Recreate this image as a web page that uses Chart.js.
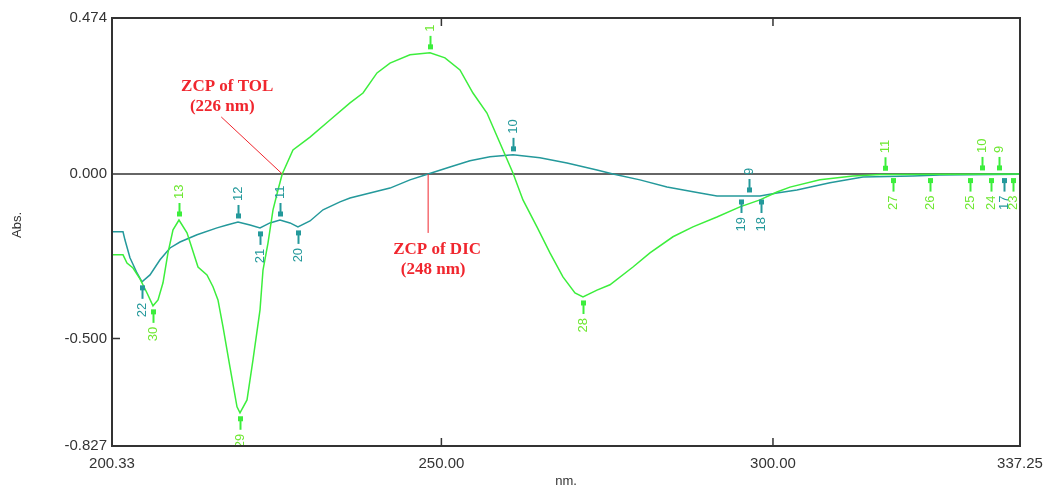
<!DOCTYPE html>
<html>
<head>
<meta charset="utf-8">
<title>Derivative spectra TOL / DIC</title>
<script src="https://cdn.jsdelivr.net/npm/chart.js@4.4.1/dist/chart.umd.min.js"></script>
<style>
  html, body { margin: 0; padding: 0; background: #fff; }
  #wrap { width: 1044px; height: 486px; }
</style>
</head>
<body>
<div id="wrap"><canvas id="c" width="1044" height="486"></canvas></div>
<script>
// axis limits and tick labels, as printed on the spectrum
const xTicks = [200.33, 250.00, 300.00, 337.25];
const yTicks = [-0.827, -0.500, 0.000, 0.474];

// TOL derivative curve (green), nm / Abs.
const tolX = [200.33, 201.99, 202.59, 203.50, 204.55, 205.61, 206.51, 207.27, 208.02, 208.77,
  209.53, 210.43, 211.64, 213.30, 214.65, 215.56, 216.31, 217.07, 218.12, 219.18,
  219.63, 220.69, 221.59, 222.65, 223.10, 223.85, 224.61, 225.36, 226.00, 227.62,
  230.19, 233.20, 236.22, 238.18, 240.29, 242.25, 245.26, 248.28, 250.54, 252.80,
  254.76, 256.87, 258.83, 260.79, 262.30, 264.41, 266.37, 268.33, 270.14, 271.35,
  273.46, 275.42, 278.89, 281.45, 284.92, 287.93, 291.55, 295.02, 298.04, 300.60,
  302.56, 307.08, 312.06, 316.13, 325.18, 337.25];
const tolY = [-0.246, -0.246, -0.271, -0.286, -0.319, -0.362, -0.401, -0.383, -0.331, -0.240,
  -0.170, -0.140, -0.179, -0.283, -0.307, -0.343, -0.383, -0.465, -0.587, -0.708,
  -0.726, -0.687, -0.565, -0.413, -0.292, -0.210, -0.109, -0.049, 0.000, 0.073,
  0.112, 0.164, 0.216, 0.246, 0.307, 0.337, 0.362, 0.368, 0.353, 0.316,
  0.246, 0.185, 0.094, 0.003, -0.079, -0.161, -0.240, -0.313, -0.362, -0.374,
  -0.353, -0.337, -0.283, -0.240, -0.191, -0.161, -0.131, -0.100, -0.079, -0.055,
  -0.040, -0.018, -0.006, -0.002, -0.001, 0.000];

// DIC derivative curve (teal)
const dicX = [200.33, 201.99, 202.29, 203.04, 204.10, 204.85, 206.06, 207.57, 209.08, 210.58,
  213.15, 216.16, 217.67, 219.33, 221.14, 222.65, 224.15, 225.66, 227.17, 228.37,
  230.19, 232.15, 234.71, 236.22, 239.23, 242.25, 245.26, 248.00, 251.29, 254.31,
  257.33, 260.79, 264.86, 268.94, 273.46, 275.87, 279.94, 284.02, 288.99, 291.55,
  295.78, 298.04, 300.60, 303.61, 308.59, 313.57, 321.11, 325.18, 337.25];
const dicY = [-0.176, -0.176, -0.201, -0.255, -0.301, -0.328, -0.307, -0.261, -0.225, -0.207,
  -0.185, -0.164, -0.155, -0.146, -0.155, -0.164, -0.149, -0.140, -0.149, -0.161,
  -0.143, -0.109, -0.085, -0.073, -0.058, -0.043, -0.018, 0.000, 0.021, 0.040,
  0.052, 0.058, 0.049, 0.033, 0.012, 0.000, -0.018, -0.040, -0.058, -0.067,
  -0.067, -0.067, -0.058, -0.049, -0.027, -0.009, -0.006, -0.003, -0.001];

// peak picks: label, nm, Abs., +1 = valley (label below), -1 = peak (label above)
const tolPickLabel = ['1', '13', '11', '10', '9', '30', '29', '28', '27', '26', '25', '24', '23'];
const tolPickX = [248.28, 210.43, 316.88, 331.50, 334.10, 206.51, 219.63, 271.35, 318.10, 323.67, 329.70, 332.90, 336.20];
const tolPickY = [0.368, -0.140, -0.001, 0.000, 0.000, -0.401, -0.726, -0.374, -0.002, -0.002, -0.002, -0.002, -0.002];
const tolPickDir = [-1, -1, -1, -1, -1, 1, 1, 1, 1, 1, 1, 1, 1];

const dicPickLabel = ['12', '11', '10', '9', '22', '21', '20', '19', '18', '17'];
const dicPickX = [219.33, 225.66, 260.79, 296.40, 204.85, 222.65, 228.37, 295.20, 298.20, 334.80];
const dicPickY = [-0.146, -0.140, 0.058, -0.067, -0.328, -0.164, -0.161, -0.067, -0.067, -0.002];
const dicPickDir = [-1, -1, -1, -1, 1, 1, 1, 1, 1, 1];

// zero crossing points
const zcpTol = 226;
const zcpDic = 248;

const GREEN = '#3cee3c';
const GREEN_TXT = '#6ee832';
const TEAL = '#24999b';
const RED = '#f0262e';
const AXIS = '#333333';

function toPts(xs, ys) { return xs.map((x, i) => ({ x: x, y: ys[i] })); }

const spectrumDecor = {
  id: 'spectrumDecor',
  beforeDatasetsDraw(chart) {
    const { ctx, chartArea: a, scales: { y } } = chart;
    ctx.save();
    // zero line
    const y0 = y.getPixelForValue(0);
    ctx.strokeStyle = AXIS;
    ctx.lineWidth = 1.5;
    ctx.beginPath(); ctx.moveTo(a.left, y0); ctx.lineTo(a.right, y0); ctx.stroke();
    ctx.restore();
  },
  afterDatasetsDraw(chart) {
    const { ctx, chartArea: a, scales: { x, y } } = chart;
    ctx.save();

    // frame + inner ticks
    ctx.strokeStyle = AXIS;
    ctx.lineWidth = 2;
    ctx.strokeRect(a.left, a.top, a.right - a.left, a.bottom - a.top);
    ctx.lineWidth = 1.5;
    ctx.beginPath();
    [250, 300].forEach(v => {
      const px = x.getPixelForValue(v);
      ctx.moveTo(px, a.bottom); ctx.lineTo(px, a.bottom - 8);
      ctx.moveTo(px, a.top); ctx.lineTo(px, a.top + 8);
    });
    const py5 = y.getPixelForValue(-0.5);
    ctx.moveTo(a.left, py5); ctx.lineTo(a.left + 8, py5);
    ctx.stroke();

    // peak picks
    ctx.save();
    ctx.beginPath(); ctx.rect(a.left, a.top + 1, a.right - a.left, a.bottom - a.top - 2); ctx.clip();
    function picks(labels, xs, ys, dirs, lineCol, txtCol) {
      labels.forEach((lab, i) => {
        const px = Math.round(x.getPixelForValue(xs[i])) + 0.5;
        const py = y.getPixelForValue(ys[i]);
        const d = dirs[i];
        ctx.strokeStyle = lineCol;
        ctx.lineWidth = 2;
        ctx.beginPath(); ctx.moveTo(px, py + d * 5); ctx.lineTo(px, py + d * 17); ctx.stroke();
        ctx.fillStyle = lineCol;
        ctx.fillRect(px - 2.5, py + d * 6 - 2.5, 5, 5);
        ctx.save();
        ctx.translate(px, py + d * 21);
        ctx.rotate(-Math.PI / 2);
        ctx.fillStyle = txtCol;
        ctx.font = '13px "Liberation Sans", Arial, sans-serif';
        ctx.textBaseline = 'middle';
        ctx.textAlign = d < 0 ? 'left' : 'right';
        ctx.fillText(lab, 0, 0);
        ctx.restore();
      });
    }
    picks(tolPickLabel, tolPickX, tolPickY, tolPickDir, GREEN, GREEN_TXT);
    picks(dicPickLabel, dicPickX, dicPickY, dicPickDir, TEAL, TEAL);
    ctx.restore();

    // zero crossing annotations
    const y0 = y.getPixelForValue(0);
    const xt = x.getPixelForValue(zcpTol);
    const xd = x.getPixelForValue(zcpDic);
    ctx.strokeStyle = RED;
    ctx.lineWidth = 1;
    ctx.beginPath();
    ctx.moveTo(xt - 61, y0 - 57); ctx.lineTo(xt, y0);
    ctx.moveTo(xd, y0); ctx.lineTo(xd, y0 + 59);
    ctx.stroke();
    ctx.fillStyle = RED;
    ctx.font = 'bold 17px "Liberation Serif", "Times New Roman", serif';
    ctx.textAlign = 'center';
    ctx.textBaseline = 'middle';
    ctx.fillText('ZCP of TOL', xt - 55, y0 - 87);
    ctx.fillText('(' + zcpTol + ' nm)', xt - 60, y0 - 67);
    ctx.fillText('ZCP of DIC', xd + 9, y0 + 76);
    ctx.fillText('(' + zcpDic + ' nm)', xd + 5, y0 + 96);

    // axis titles
    ctx.fillStyle = AXIS;
    ctx.font = '13px "Liberation Sans", Arial, sans-serif';
    ctx.fillText('nm.', (a.left + a.right) / 2, 481);
    ctx.save();
    ctx.translate(17, 225);
    ctx.rotate(-Math.PI / 2);
    ctx.fillText('Abs.', 0, 0);
    ctx.restore();

    ctx.restore();
  }
};

new Chart(document.getElementById('c'), {
  type: 'line',
  data: {
    datasets: [
      { label: 'TOL', data: toPts(tolX, tolY), borderColor: GREEN, borderWidth: 1.5, pointRadius: 0, tension: 0 },
      { label: 'DIC', data: toPts(dicX, dicY), borderColor: TEAL, borderWidth: 1.5, pointRadius: 0, tension: 0 }
    ]
  },
  options: {
    responsive: false,
    animation: false,
    devicePixelRatio: 1,
    layout: { padding: { left: 0, top: 18, right: 24, bottom: 0 } },
    plugins: { legend: { display: false }, tooltip: { enabled: false } },
    scales: {
      x: {
        type: 'linear', min: xTicks[0], max: xTicks[xTicks.length - 1],
        afterBuildTicks: s => { s.ticks = xTicks.map(v => ({ value: v })); },
        afterFit: s => { s.height = 40; s.paddingLeft = 0; s.paddingRight = 0; },
        grid: { display: false, drawTicks: false },
        border: { display: false },
        ticks: {
          autoSkip: false, maxRotation: 0, padding: 9, color: AXIS,
          font: { family: '"Liberation Sans", Arial, sans-serif', size: 15 },
          callback: v => Number(v).toFixed(2)
        }
      },
      y: {
        type: 'linear', min: yTicks[0], max: yTicks[yTicks.length - 1],
        afterBuildTicks: s => { s.ticks = yTicks.map(v => ({ value: v })); },
        afterFit: s => { s.width = 112; s.paddingTop = 0; s.paddingBottom = 0; },
        grid: { display: false, drawTicks: false },
        border: { display: false },
        ticks: {
          autoSkip: false, padding: 5, color: AXIS,
          font: { family: '"Liberation Sans", Arial, sans-serif', size: 15 },
          callback: v => Number(v).toFixed(3)
        }
      }
    }
  },
  plugins: [spectrumDecor]
});
</script>
</body>
</html>
